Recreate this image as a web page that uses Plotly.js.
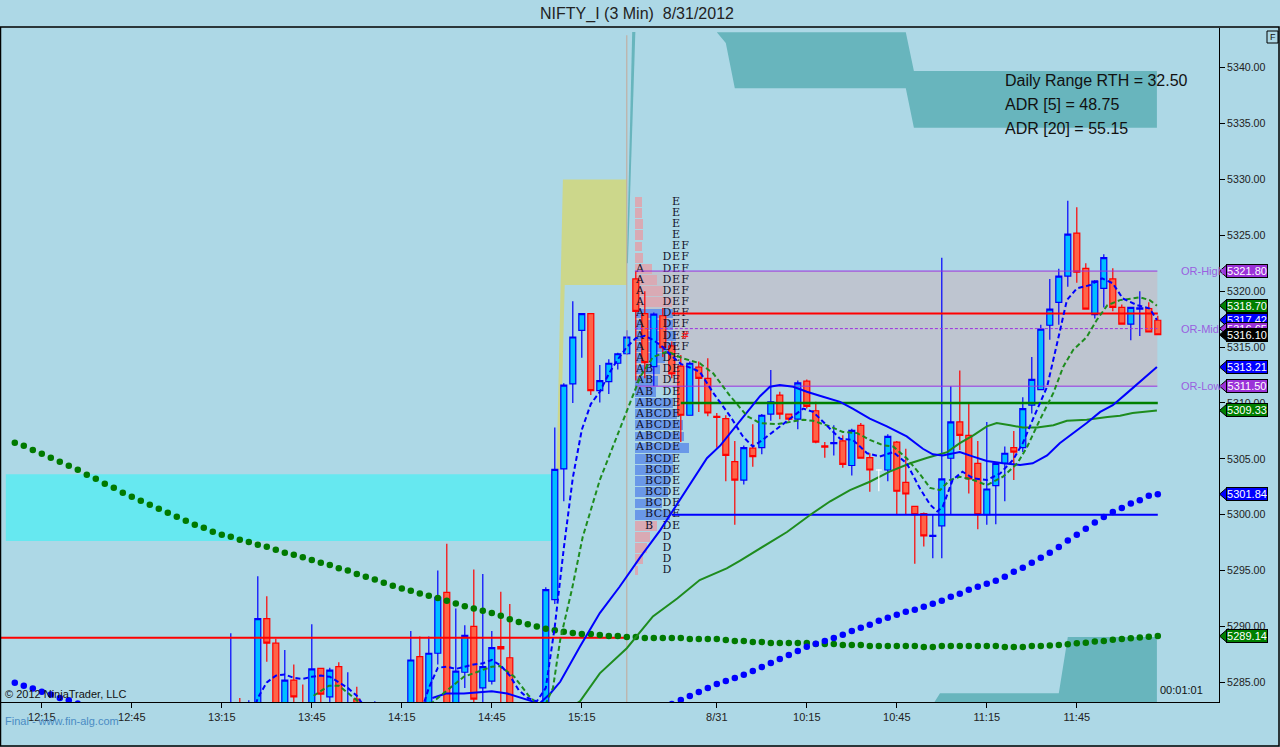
<!DOCTYPE html>
<html><head><meta charset="utf-8">
<script src="https://cdn.plot.ly/plotly-3.0.1.min.js"></script>
<style>html,body{margin:0;padding:0;background:#ADD8E6;}#chart{width:1280px;height:747px;}</style>
</head><body><div id="chart"></div>
<script>
// ---------- axes ----------
const tickBars   = [0,10,20,30,40,50,60,75,85,95,105,115];
const tickLabels = ['12:15','12:45','13:15','13:45','14:15','14:45','15:15','8/31','10:15','10:45','11:15','11:45'];
const priceTicks = [5285,5290,5295,5300,5305,5310,5315,5320,5325,5330,5335,5340];

// ---------- candles (bar index, OHLC) ----------
const candleBar = [21,22,23,24,25,26,27,28,29,30,31,32,33,34,35,
  37,
  41,42,43,44,45,46,47,48,49,50,51,52,
  56,57,58,59,60,61,62,63,64,65,
  66,67,68,69,70,71,72,73,74,75,
  76,77,78,79,80,81,82,83,84,85,
  86,87,88,89,90,91,92,
  94,95,96,97,98,99,100,101,102,103,104,
  105,106,107,108,109,110,111,112,113,114,
  115,116,117,118,119,120,121,122,123,124];
const candleOpen = [5276,5281,5279,5280,5290.7,5288.5,5280,5285.2,5283,5281,5286.25,5283.7,5286.4,5280,5283.5,
  5280,
  5282,5287.3,5282,5287.6,5293.05,5282,5285.9,5290,5284.5,5285.1,5288.2,5287.2,
  5282,5292.4,5304.1,5311.7,5316.5,5318.0,5311.1,5311.9,5313.55,5314.4,
  5321.1,5318.0,5313.25,5317.8,5315.1,5313.3,5308.9,5313.2,5312.2,5308.8,
  5308.6,5304.75,5303.1,5305.95,5306.0,5309.0,5310.7,5309.0,5308.55,5311.95,
  5309.3,5306.15,5306.35,5306.6,5304.4,5308.0,5305.1,
  5304.0,5306.5,5302.9,5300.75,5300.1,5298.05,5299.0,5305.05,5308.3,5307.1,5304.6,
  5300.0,5302.6,5304.6,5306.0,5306.0,5309.8,5311.2,5316.95,5319.0,5321.35,
  5325.2,5322.05,5317.9,5320.25,5321.1,5318.55,5317.05,5318.4,5318.45,5317.4];
const candleHigh = [5289.4,5283.6,5283.4,5294.5,5292.7,5288.9,5287.9,5286.6,5284.8,5290.2,5286.3,5286.3,5286.8,5285.9,5284.6,
  5283.3,
  5289.6,5289.1,5289.1,5295.0,5297.4,5291.6,5290.1,5295.1,5294.7,5289.6,5293.1,5292.0,
  5293.5,5307.8,5311.76,5319.1,5318.0,5318.0,5313.4,5313.9,5314.5,5316.5,
  5321.8,5320.0,5318.1,5318.5,5315.5,5314.3,5313.7,5313.7,5314.0,5309.1,
  5308.9,5306.6,5306.2,5308.1,5309.0,5312.95,5311.0,5309.05,5312.0,5312.1,
  5310.1,5306.5,5308.0,5307.1,5307.7,5308.2,5305.5,
  5307.2,5306.6,5305.9,5300.8,5300.2,5300.0,5323.0,5311.5,5312.9,5310.0,5306.6,
  5308.3,5304.7,5306.1,5307.5,5310.5,5314.1,5317.0,5321.1,5322.0,5328.1,
  5327.5,5322.5,5321.0,5323.3,5322.05,5318.8,5318.6,5320.0,5319.0,5317.8];
const candleLow = [5275,5278,5278,5279,5286.85,5280,5279,5282,5280,5280,5282,5283,5281,5280,5282,
  5279,
  5281,5281,5281,5286.6,5281,5281,5284.5,5282,5283,5284.8,5283,5281,
  5281,5292,5301.2,5310,5314.05,5310.7,5310.05,5310.8,5313.0,5314.3,
  5312.0,5312.2,5311.5,5314.1,5312.2,5306.5,5308.9,5309.2,5308.8,5306.0,
  5303.0,5299.1,5302.7,5304.3,5305.4,5308.4,5308.55,5308.4,5307.65,5309.5,
  5306.4,5305.1,5305.3,5304.2,5303.5,5305.0,5302.05,
  5303.0,5300.0,5300.0,5295.6,5297.15,5296.1,5296.1,5300.05,5305.8,5301.9,5298.7,
  5299.1,5299.15,5301.2,5303.1,5305.6,5309.05,5311.2,5315.65,5317.0,5320.4,
  5320.75,5318.4,5317.55,5318.55,5318.2,5317.05,5315.6,5316.0,5316.35,5316.05];
const candleClose = [5279,5279,5281,5290.7,5288.5,5281,5285.2,5283.7,5281,5286.2,5283.95,5286.1,5282,5282.5,5282.5,
  5282,
  5287,5282,5287.6,5292.6,5282.5,5286,5289.2,5283.5,5286.4,5288.1,5288.0,5282,
  5293.3,5304.06,5311.6,5315.9,5318.0,5311.1,5312.0,5313.55,5314.4,5315.9,
  5318.2,5313.6,5317.95,5314.95,5312.6,5308.9,5313.55,5312.2,5309.1,5308.7,
  5305.3,5303.1,5306.0,5305.2,5308.9,5310.1,5309.0,5308.55,5311.8,5309.7,
  5306.5,5306.05,5306.45,5304.5,5307.55,5305.05,5304.0,
  5307.0,5302.1,5301.85,5300.0,5298.1,5298.15,5303.2,5308.3,5307.1,5303.2,5300.0,
  5302.3,5304.6,5305.5,5305.6,5309.5,5312.1,5316.6,5318.4,5321.35,5325.1,
  5321.7,5318.4,5320.9,5323.0,5318.55,5317.05,5318.55,5318.5,5316.35,5316.1];
// unchanged (doji) bar drawn in white
const dojiBar = [93], dojiOpen = [5304.0], dojiHigh = [5304.06], dojiLow = [5302.1];

// ---------- moving averages ----------
const fastMaBar = [23,24,25,26,27,28,29,30,31,32,33,34,35,36,37,40,42,43,44,45,46,47,48,49,50,51,52,53,54,55,56,57,58,59,60,61,62,63,64,65,66,67,68,69,70,71,
  73.1,74.6,76.5,77.9,79.0,80.1,81.7,83.1,84.6,85.7,87.2,88.7,90.1,91.7,93.1,94.6,96.1,97.6,98.7,99.5,100.1,101.2,102.3,103.5,105.0,106.5,107.9,109.0,110.1,111.7,112.8,113.9,115.0,116.5,117.8,119.0,120.1,121.7,123.1,123.9];
const fastMaValue = [5281.0,5283.6,5285.0,5285.6,5285.7,5285.4,5285.3,5285.5,5285.6,5285.5,5285.0,5284.5,5283.8,5282.6,5281.5,5280.5,5282.0,5284.5,5286.3,5286.4,5286.2,5286.4,5286.6,5286.7,5287.0,5286.5,5285.6,5284.3,5283.6,5283.3,5284.5,5290.0,5297.0,5303.3,5307.6,5309.9,5311.0,5312.6,5313.9,5315.0,5315.8,5316.0,5315.6,5315.0,5314.2,5313.5,
  5312.8,5310.9,5308.8,5307.0,5306.1,5306.7,5307.7,5308.6,5309.5,5309.2,5308.0,5306.8,5306.7,5305.5,5305.2,5305.6,5304.6,5302.3,5300.9,5300.3,5300.7,5303.1,5303.85,5303.25,5303.1,5303.7,5304.9,5306.4,5308.5,5311.45,5315.3,5319.2,5320.25,5320.55,5321.15,5320.7,5319.35,5318.75,5318.45,5317.42];

const slowMaBar = [30.2,31.9,33.0,35.0,35.9,43.4,44.6,46.9,50.0,50.9,52.5,54.1,54.9,55.9,56.8,57.6,58.9,60.1,62.0,63.9,65.4,66.5,67.9,69.5,71.2,73.1,74.6,76.5,78.4,79.8,81.7,83.1,84.6,85.7,87.6,89.0,90.6,92.0,93.5,94.6,96.1,97.6,98.7,99.8,100.9,102.0,103.5,105.0,106.8,108.4,109.5,110.9,112.4,113.5,114.6,116.1,117.2,118.4,119.8,121.2,122.0,123.1,123.9];
const slowMaValue = [5283.8,5284.7,5284.7,5283.4,5282.6,5283.2,5284.0,5285.5,5286.4,5286.45,5285.5,5283.8,5283.2,5282.9,5284.5,5288.8,5293.3,5298.0,5303.1,5307.0,5310.0,5312.35,5314.1,5314.6,5314.0,5313.55,5312.65,5310.6,5308.8,5308.2,5308.1,5308.3,5308.5,5308.4,5307.9,5307.4,5307.3,5306.7,5306.2,5306.1,5305.05,5303.6,5302.4,5302.2,5303.1,5303.4,5303.1,5302.65,5303.4,5304.6,5306.1,5308.5,5310.9,5313.25,5314.75,5315.9,5317.4,5318.75,5319.2,5319.35,5319.45,5319.2,5318.7];

const midMaBar = [43.4,44.9,46.9,50.0,51.7,54.1,55.3,56.5,57.6,59.8,62.0,64.2,66.5,68.7,70.9,72.4,73.9,75.4,76.8,78.4,79.8,80.9,82.0,83.5,85.0,86.8,88.7,90.1,92.0,93.9,96.1,97.9,99.0,100.1,102.0,103.5,105.0,106.8,108.7,110.1,111.7,113.1,114.6,116.1,117.6,119.0,120.6,122.0,123.9];
const midMaValue = [5283.6,5284.0,5284.0,5284.2,5284.0,5283.4,5283.1,5284.0,5285.05,5288.2,5291.2,5293.55,5296.2,5298.6,5301.3,5303.2,5305.05,5306.2,5307.6,5309.1,5310.6,5311.45,5311.6,5311.45,5311.0,5310.55,5310.1,5309.5,5308.6,5307.9,5307.0,5305.9,5305.4,5305.3,5305.6,5305.2,5304.8,5304.6,5304.45,5304.6,5305.3,5306.4,5307.3,5308.2,5309.2,5309.8,5310.9,5311.9,5313.21];

const longMaBar = [59.2,59.8,62.0,65.0,67.9,70.6,73.1,76.1,77.6,79.8,82.8,85.4,87.6,89.8,92.0,94.2,96.5,98.4,100.6,102.0,103.5,105.0,106.1,107.6,109.0,110.6,112.4,113.9,116.1,118.4,119.8,121.2,123.9];
const longMaValue = [5283.0,5283.3,5285.8,5288.05,5290.9,5292.5,5294.15,5295.2,5295.9,5297.0,5298.45,5300.0,5301.2,5302.2,5302.95,5303.85,5304.6,5305.1,5305.6,5306.4,5307.1,5307.9,5308.2,5308.0,5307.8,5307.8,5308.0,5308.4,5308.5,5308.75,5308.85,5309.1,5309.33];

// dotted averages, one value per bar
const greenDotBar = [-3,-2,-1,0,1,2,3,4,5,6,7,8,9,10,11,12,13,14,15,16,17,18,19,20,21,22,23,24,25,26,27,28,29,30,31,32,33,34,35,36,37,38,39,40,41,42,43,44,45,46,47,48,49,50,51,52,53,54,55,56,57,58,59,60,61,62,63,64,65,66,67,68,69,70,71,72,73,74,75,76,77,78,79,80,81,82,83,84,85,86,87,88,89,90,91,92,93,94,95,96,97,98,99,100,101,102,103,104,105,106,107,108,109,110,111,112,113,114,115,116,117,118,119,120,121,122,123,124];
const greenDotValue = [5306.44,5306.17,5305.79,5305.46,5305.10,5304.74,5304.38,5304.03,5303.58,5303.22,5302.77,5302.42,5301.97,5301.61,5301.25,5300.90,5300.54,5300.18,5299.82,5299.46,5299.11,5298.84,5298.48,5298.21,5298.03,5297.76,5297.56,5297.32,5297.14,5296.87,5296.60,5296.42,5296.20,5295.95,5295.70,5295.50,5295.20,5295.00,5294.70,5294.45,5294.20,5293.90,5293.65,5293.40,5293.20,5292.95,5292.75,5292.55,5292.30,5292.05,5291.80,5291.60,5291.40,5291.20,5290.95,5290.65,5290.40,5290.20,5290.00,5289.80,5289.65,5289.53,5289.41,5289.32,5289.32,5289.23,5289.14,5289.14,5289.05,5289.05,5288.96,5288.96,5288.96,5288.96,5288.96,5288.87,5288.87,5288.87,5288.87,5288.79,5288.70,5288.70,5288.61,5288.61,5288.52,5288.52,5288.52,5288.52,5288.52,5288.43,5288.43,5288.43,5288.34,5288.34,5288.34,5288.25,5288.25,5288.25,5288.25,5288.25,5288.25,5288.16,5288.16,5288.25,5288.25,5288.25,5288.25,5288.25,5288.25,5288.25,5288.16,5288.16,5288.16,5288.25,5288.25,5288.30,5288.35,5288.40,5288.50,5288.55,5288.65,5288.70,5288.80,5288.87,5288.95,5289.02,5289.08,5289.14];
const blueDotBar = [-3,-2,-1,0,1,2,3,4,5,
  70,71,72,73,74,75,76,77,78,79,80,81,82,83,84,85,86,87,88,89,90,91,92,93,94,95,96,97,98,99,100,101,102,103,104,105,106,107,108,109,110,111,112,113,114,115,116,117,118,119,120,121,122,123,124];
const blueDotValue = [5284.97,5284.70,5284.45,5284.15,5283.90,5283.60,5283.40,5283.10,5282.80,
  5283.05,5283.42,5283.78,5284.14,5284.50,5284.85,5285.12,5285.39,5285.68,5286.01,5286.37,5286.73,5287.09,5287.44,5287.80,5288.19,5288.45,5288.70,5288.97,5289.26,5289.59,5289.89,5290.16,5290.51,5290.78,5291.05,5291.32,5291.50,5291.77,5292.04,5292.30,5292.66,5292.93,5293.29,5293.56,5293.83,5294.09,5294.45,5294.90,5295.26,5295.70,5296.15,5296.60,5297.10,5297.70,5298.20,5298.75,5299.30,5299.80,5300.25,5300.60,5301.00,5301.30,5301.70,5301.84];

// ---------- market profile of 8/31 ----------
const profilePrice  = [5328,5327,5326,5325,5324,5323,5322,5321,5320,5319,5318,5317,5316,5315,5314,5313,5312,5311,5310,5309,5308,5307,5306,5305,5304,5303,5302,5301,5300,5299,5298,5297,5296,5295];
const profileVolume = [67,67,80,80,67,80,167,217,280,367,380,380,410,410,300,250,230,210,380,417,477,490,540,380,380,350,330,267,350,217,150,117,80,27];
const valueAreaLow = 5300, valueAreaHigh = 5318;
const tpoLetters = ['    E','    E','    E','    E','    EF','   DEF',
  'A  DEF','A  DEF','A  DEF','A  DEF','A  DEF','A  DEF','A  DEF','A  DEF','A  DE',
  'AB DE','AB DE','AB DE','ABCDE','ABCDE','ABCDE','ABCDE','ABCDE',
  ' BCDE',' BCDE',' BCDE',' BCDE',' BCDE',' BCDE',' B DE','   D','   D','   D','   D'];
const profileStartBar = 65.9, tpoFirstColumnBar = 66.47;

// ---------- levels ----------
const orHigh = 5321.80, orMid = 5316.65, orLow = 5311.50;
const orStartBar = 65.9, lastBar = 123.95, sessionBreakBar = 65.0;
const levelPrice = [5289.0, 5318.0, 5310.0, 5300.0];
const levelFrom  = [-5, 70, 71, 70];
const levelTo    = [65, 124, 124, 124];
const levelColor = ['#FF0000','#FF0000','#008000','#0000FF'];

// ---------- zones ----------
const cyanZoneBar    = [-4.0, 56.6, 56.6, -4.0];
const cyanZonePrice  = [5303.62, 5303.62, 5297.65, 5297.65];
const khakiZoneBar   = [57.9, 65.0, 65.0, 58.1, 57.6, 57.2];
const khakiZonePrice = [5330.0, 5330.0, 5320.55, 5320.55, 5304.0, 5304.0];
const tealTopBar     = [75.0, 96.0, 96.9, 123.9, 123.9, 96.9, 96.0, 77.0, 76.0];
const tealTopPrice   = [5343.17, 5343.17, 5339.7, 5339.7, 5334.63, 5334.63, 5338.16, 5338.16, 5342.2];
const tealLowBar     = [99.0, 99.8, 113.0, 114.0, 123.9, 123.9];
const tealLowPrice   = [5283.0, 5284.03, 5284.03, 5289.05, 5289.05, 5283.0];
const tealSliverBar  = [65.0, 65.6, 65.95, 65.12];
const tealSliverPrice= [5322.5, 5343.2, 5343.2, 5322.5];

// ---------- right-edge price markers ----------
const markerPrices = [5321.80, 5318.70, 5317.42, 5316.65, 5316.10, 5313.21, 5311.50, 5309.33, 5301.84, 5289.14];
const markerColors = ['#9B32D8','#008000','#0000FF','#9B32D8','#000000','#0000FF','#9B32D8','#008000','#0000FF','#008000'];

const statLines = ['Daily Range RTH = 32.50','ADR [5] = 48.75','ADR [20] = 55.15'];

// ================= build =================
const Y0 = 5283.24, Y1 = 5343.55, X0 = -4.533, X1 = 130.8;
const px2x = p => (p - 1) / 1218;
const py2y = p => (702 - p) / 674;
const v2y  = v => (v - Y0) / (Y1 - Y0);
const FONT = 'Liberation Sans, Arial, sans-serif';

const traces = [];
// profile histogram
traces.push({type:'bar', orientation:'h', y:profilePrice, x:profileVolume.map(v=>v/90), base:profileStartBar,
  width:0.88, marker:{color:profilePrice.map(p=> (p>=valueAreaLow && p<=valueAreaHigh) ? '#6A98E8' : '#D9AAB4'), line:{width:0}},
  hoverinfo:'skip', showlegend:false});
// TPO letters
const tx=[], ty=[], tt=[];
tpoLetters.forEach((row,k)=>{ for(let c=0;c<row.length;c++){ if(row[c]!==' '){ tx.push(tpoFirstColumnBar+c); ty.push(profilePrice[k]); tt.push(row[c]); } } });
traces.push({type:'scatter', mode:'text', x:tx, y:ty, text:tt, textposition:'middle center',
  textfont:{family:'DejaVu Serif, Liberation Serif, serif', size:11, color:'#10102A'}, hoverinfo:'skip', showlegend:false});
traces.push({type:'scatter', mode:'text', x:[tpoFirstColumnBar+5], y:[5316], text:['#'], textposition:'middle center',
  textfont:{family:'DejaVu Serif, serif', size:11, color:'#FF2020'}, hoverinfo:'skip', showlegend:false});
// session break
traces.push({type:'scatter', mode:'lines', x:[sessionBreakBar,sessionBreakBar], y:[Y0,5342.9], line:{color:'#C4A898', width:1}, hoverinfo:'skip', showlegend:false});
// OR lines
traces.push({type:'scatter', mode:'lines', x:[orStartBar,lastBar], y:[orHigh,orHigh], line:{color:'#9B30E0', width:1}, hoverinfo:'skip', showlegend:false});
traces.push({type:'scatter', mode:'lines', x:[orStartBar,lastBar], y:[orLow,orLow], line:{color:'#9B30E0', width:1}, hoverinfo:'skip', showlegend:false});
traces.push({type:'scatter', mode:'lines', x:[orStartBar,lastBar], y:[orMid,orMid], line:{color:'#9B30E0', width:1, dash:'3px,2px'}, hoverinfo:'skip', showlegend:false});
// levels
levelPrice.forEach((p,k)=>traces.push({type:'scatter', mode:'lines', x:[levelFrom[k],levelTo[k]], y:[p,p],
  line:{color:levelColor[k], width:k===2?2.5:2}, hoverinfo:'skip', showlegend:false}));
// dotted averages
traces.push({type:'scatter', mode:'markers', x:greenDotBar, y:greenDotValue, marker:{color:'#007A00', size:6.5}, hoverinfo:'skip', showlegend:false});
traces.push({type:'scatter', mode:'markers', x:blueDotBar, y:blueDotValue, marker:{color:'#0000FF', size:6.5}, hoverinfo:'skip', showlegend:false});
// moving averages
traces.push({type:'scatter', mode:'lines', x:longMaBar, y:longMaValue, line:{color:'#1E8C1E', width:2}, hoverinfo:'skip', showlegend:false});
traces.push({type:'scatter', mode:'lines', x:midMaBar, y:midMaValue, line:{color:'#0000FF', width:2}, hoverinfo:'skip', showlegend:false});
traces.push({type:'scatter', mode:'lines', x:slowMaBar, y:slowMaValue, line:{color:'#1E8C1E', width:2, dash:'5px,3px'}, hoverinfo:'skip', showlegend:false});
traces.push({type:'scatter', mode:'lines', x:fastMaBar, y:fastMaValue, line:{color:'#0000FF', width:2, dash:'5px,3px'}, hoverinfo:'skip', showlegend:false});
// candles
traces.push({type:'candlestick', x:candleBar, open:candleOpen, high:candleHigh, low:candleLow, close:candleClose,
  increasing:{line:{color:'#0000FF', width:1.2}, fillcolor:'#00BFFF'},
  decreasing:{line:{color:'#FF0000', width:1.2}, fillcolor:'#FF6347'},
  whiskerwidth:0, hoverinfo:'skip', showlegend:false});
// doji (white)
dojiBar.forEach((b,k)=>{
  traces.push({type:'scatter', mode:'lines', x:[b,b,null,b-0.33,b+0.33], y:[dojiHigh[k],dojiLow[k],null,dojiOpen[k],dojiOpen[k]],
    line:{color:'#FFFFFF', width:1.2}, hoverinfo:'skip', showlegend:false});
});

// shapes
const poly = (xs, ys) => 'M ' + xs.map((x,i)=> x + ',' + ys[i]).join(' L ') + ' Z';
const shapes = [
  {type:'path', xref:'x', yref:'y', path:poly(cyanZoneBar,cyanZonePrice), fillcolor:'#66E8F0', line:{width:0}, layer:'below'},
  {type:'path', xref:'x', yref:'y', path:poly(khakiZoneBar,khakiZonePrice), fillcolor:'#CCD78B', line:{width:0}, layer:'below'},
  {type:'path', xref:'x', yref:'y', path:poly(tealTopBar,tealTopPrice), fillcolor:'#68B5BD', line:{width:0}, layer:'below'},
  {type:'path', xref:'x', yref:'y', path:poly(tealLowBar,tealLowPrice), fillcolor:'#68B5BD', line:{width:0}, layer:'below'},
  {type:'path', xref:'x', yref:'y', path:poly(tealSliverBar,tealSliverPrice), fillcolor:'#68B5BD', line:{width:0}, layer:'below'},
  {type:'rect', xref:'x', yref:'y', x0:orStartBar, x1:lastBar, y0:orLow, y1:orHigh, fillcolor:'#BEC5D0', line:{width:0}, layer:'below'},
  // frame
  {type:'rect', xref:'paper', yref:'paper', x0:px2x(0.5), x1:px2x(1279), y0:py2y(746), y1:py2y(27), line:{color:'#000', width:1.5}, fillcolor:'rgba(0,0,0,0)', layer:'above'},
  {type:'rect', xref:'paper', yref:'paper', x0:px2x(1267), x1:px2x(1278), y0:py2y(43), y1:py2y(31), line:{color:'#000', width:1}, fillcolor:'rgba(0,0,0,0)', layer:'above'}
];
markerPrices.forEach((v,k)=>{
  const yc = v2y(v), h = 6/674;
  shapes.push({type:'path', xref:'paper', yref:'paper', layer:'above',
    path:`M ${px2x(1219.5)},${yc} L ${px2x(1226.5)},${yc+h} L ${px2x(1226.5)},${yc-h} Z`,
    fillcolor:markerColors[k], line:{color:'#000', width:1}});
});

const annotations = [];
statLines.forEach((t,k)=>annotations.push({xref:'paper', yref:'paper', x:px2x(1003), y:py2y(80+24*k), xanchor:'left', yanchor:'middle',
  text:t, showarrow:false, font:{family:FONT, size:16, color:'#111'}}));
annotations.push({xref:'paper', yref:'paper', x:px2x(3), y:py2y(694), xanchor:'left', yanchor:'middle', text:'© 2012 NinjaTrader, LLC', showarrow:false, font:{family:FONT, size:11, color:'#111'}});
annotations.push({xref:'paper', yref:'paper', x:px2x(3), y:py2y(721), xanchor:'left', yanchor:'middle', text:'Final - www.fin-alg.com', showarrow:false, font:{family:FONT, size:11, color:'#4A8CC4'}});
annotations.push({xref:'paper', yref:'paper', x:px2x(1158), y:py2y(690), xanchor:'left', yanchor:'middle', text:'00:01:01', showarrow:false, font:{family:FONT, size:11, color:'#111'}});
annotations.push({xref:'paper', yref:'paper', x:px2x(1272.5), y:py2y(37), xanchor:'center', yanchor:'middle', text:'F', showarrow:false, font:{family:FONT, size:9, color:'#111'}});
[[orHigh,'OR-High'],[orMid,'OR-Mid'],[orLow,'OR-Low']].forEach(([v,t])=>annotations.push({xref:'paper', yref:'y', x:px2x(1179), y:v,
  xanchor:'left', yanchor:'middle', text:t, showarrow:false, font:{family:FONT, size:11, color:'#9A5FE0'}}));
markerPrices.forEach((v,k)=>annotations.push({xref:'paper', yref:'y', x:px2x(1226), y:v, xanchor:'left', yanchor:'middle',
  text:v.toFixed(2), showarrow:false, width:40, height:12, borderpad:0, borderwidth:1, bordercolor:'#000', bgcolor:markerColors[k],
  font:{family:FONT, size:11, color:'#FFFFFF'}}));

const layout = {
  width:1280, height:747, margin:{l:1, r:61, t:28, b:45, pad:0},
  paper_bgcolor:'#ADD8E6', plot_bgcolor:'#ADD8E6', showlegend:false,
  boxgap:0.05, boxgroupgap:0.3, bargap:0,
  font:{family:FONT, color:'#222'},
  title:{text:'NIFTY_I (3 Min)\u00a0 8/31/2012', xref:'container', yref:'container', x:637/1280, y:1-13/747, xanchor:'center', yanchor:'middle', font:{family:FONT, size:16, color:'#222'}},
  xaxis:{range:[X0,X1], tickmode:'array', tickvals:tickBars, ticktext:tickLabels, showgrid:false, zeroline:false,
    showline:true, linecolor:'#000', linewidth:1, ticks:'outside', ticklen:5, tickcolor:'#000',
    tickfont:{family:FONT, size:11, color:'#222'}, rangeslider:{visible:false}, fixedrange:true},
  yaxis:{range:[Y0,Y1], side:'right', tickmode:'array', tickvals:priceTicks, tickformat:'.2f', showgrid:false, zeroline:false,
    showline:true, linecolor:'#000', linewidth:1, ticks:'outside', ticklen:5, tickcolor:'#000',
    tickfont:{family:FONT, size:10.6, color:'#222'}, fixedrange:true},
  shapes, annotations
};
Plotly.newPlot('chart', traces, layout, {staticPlot:true, displayModeBar:false});
</script></body></html>
